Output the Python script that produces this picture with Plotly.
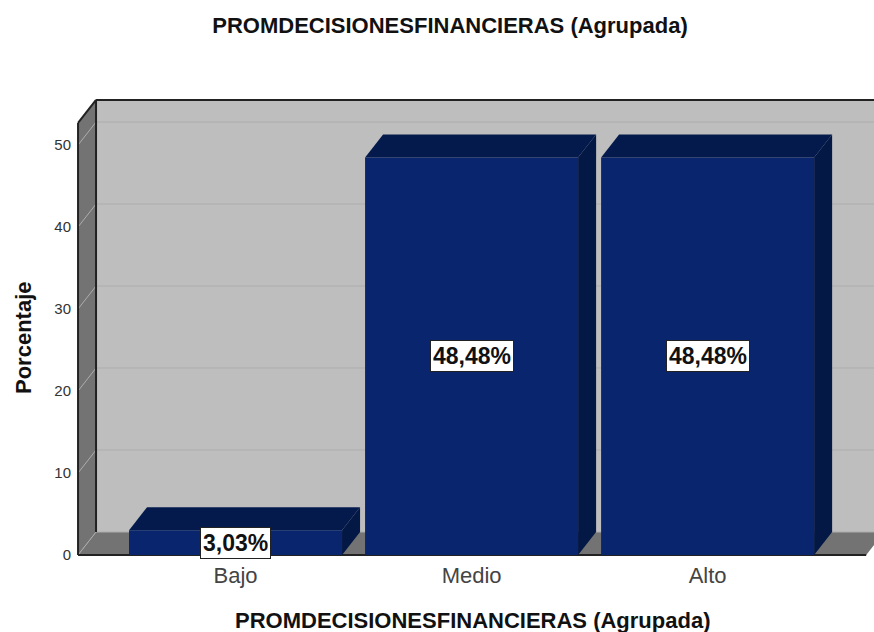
import plotly.graph_objects as go

# datos
CATEGORIAS = ["Bajo", "Medio", "Alto"]
PORCENTAJES = [3.03, 48.48, 48.48]
TICKS_Y = [0, 10, 20, 30, 40, 50]
TITULO = "PROMDECISIONESFINANCIERAS (Agrupada)"
TITULO_Y = "Porcentaje"

# profundidad del efecto 3D, en unidades de los ejes
DX = 18 / 236
DY = 23 / 8.2
ANCHO = 213 / 236
X_INI, X_FIN = -0.6674, 2.672
Y_FIN = 52.7

GRIS_PARED = "#bebebe"
GRIS_LADO = "#737373"
GRIS_LINEA = "#adadad"
FRENTE = "#08256d"
ARRIBA = "#051a4c"
COSTADO = "#041845"

pos = list(range(len(CATEGORIAS)))


def poligono(puntos, relleno, capa, borde=None, grosor=0):
    camino = "M " + " L ".join(f"{x},{y}" for x, y in puntos) + " Z"
    return dict(type="path", path=camino, fillcolor=relleno, layer=capa,
                line=dict(color=borde or relleno, width=grosor))


def linea(x0, y0, x1, y1, color, grosor):
    return dict(type="line", x0=x0, y0=y0, x1=x1, y1=y1, layer="below",
                line=dict(color=color, width=grosor))


shapes = [
    # pared del fondo, lateral y suelo
    poligono([(X_INI + DX, DY), (X_FIN + DX, DY), (X_FIN + DX, Y_FIN + DY), (X_INI + DX, Y_FIN + DY)], GRIS_PARED, "below"),
    poligono([(X_INI, 0), (X_INI + DX, DY), (X_INI + DX, Y_FIN + DY), (X_INI, Y_FIN)], GRIS_LADO, "below"),
    poligono([(X_INI, 0), (X_FIN, 0), (X_FIN + DX, DY), (X_INI + DX, DY)], GRIS_LADO, "below"),
]

# lineas de cuadricula
for t in TICKS_Y:
    shapes.append(linea(X_INI, t, X_INI + DX, t + DY, GRIS_LINEA, 1))
    shapes.append(linea(X_INI + DX, t + DY, X_FIN + DX, t + DY, GRIS_LINEA, 1))

# contorno
shapes += [
    linea(X_INI, 0, X_INI, Y_FIN, "#222222", 2),
    linea(X_INI + DX, DY, X_INI + DX, Y_FIN + DY, "#222222", 2),
    linea(X_INI, Y_FIN, X_INI + DX, Y_FIN + DY, "#222222", 2),
    linea(X_INI + DX, Y_FIN + DY, X_FIN + DX, Y_FIN + DY, "#222222", 2),
    linea(X_INI, 0, X_FIN, 0, "#222222", 2),
]

# caras superior y lateral de cada barra
for p, v in zip(pos, PORCENTAJES):
    izq, der = p - ANCHO / 2, p + ANCHO / 2
    shapes.append(poligono([(izq, v), (der, v), (der + DX, v + DY), (izq + DX, v + DY)], ARRIBA, "above"))
    shapes.append(poligono([(der, 0), (der + DX, DY), (der + DX, v + DY), (der, v)], COSTADO, "above"))

fig = go.Figure(go.Bar(
    x=pos,
    y=PORCENTAJES,
    width=ANCHO,
    marker=dict(color=FRENTE, line=dict(width=0)),
    hoverinfo="skip",
))

etiquetas = [
    dict(x=p, y=v / 2, text="<b>" + f"{v:.2f}".replace(".", ",") + "%</b>", showarrow=False,
         font=dict(family="Liberation Sans", size=23, color="#111111"),
         bgcolor="#ffffff", bordercolor="#222222", borderwidth=1, borderpad=2)
    for p, v in zip(pos, PORCENTAJES)
]
titulos = [
    dict(xref="paper", yref="paper", x=(472 - 72) / 802, xanchor="center", y=-(620 - 560) / 465, yanchor="middle",
         text=f"<b>{TITULO}</b>", showarrow=False,
         font=dict(family="Liberation Sans", size=22, color="#111111")),
    dict(xref="paper", yref="paper", x=(23 - 72) / 802, xanchor="center", y=(560 - 338) / 465, yanchor="middle",
         text=f"<b>{TITULO_Y}</b>", textangle=-90, showarrow=False,
         font=dict(family="Liberation Sans", size=22, color="#111111")),
]

fig.update_layout(
    width=874,
    height=632,
    margin=dict(l=72, r=0, t=95, b=72),
    paper_bgcolor="#ffffff",
    plot_bgcolor="#ffffff",
    showlegend=False,
    shapes=shapes,
    annotations=etiquetas + titulos,
    title=dict(text=f"<b>{TITULO}</b>", x=450 / 874, xanchor="center", y=1 - 25 / 632, yanchor="middle",
               font=dict(family="Liberation Sans", size=22, color="#111111")),
    xaxis=dict(
        range=[-0.693, 2.705],
        tickmode="array",
        tickvals=pos,
        ticktext=CATEGORIAS,
        showgrid=False,
        zeroline=False,
        showline=False,
        ticks="",
        tickfont=dict(family="Liberation Sans", size=22, color="#444444"),
    ),
    yaxis=dict(
        range=[-0.61, 56.1],
        tickmode="array",
        tickvals=TICKS_Y,
        showgrid=False,
        zeroline=False,
        showline=False,
        ticks="",
        tickfont=dict(family="Liberation Sans", size=15, color="#333333"),
    ),
)

fig.write_html("out.html", config=dict(displayModeBar=False),
               post_script="document.body.style.margin='0';")
